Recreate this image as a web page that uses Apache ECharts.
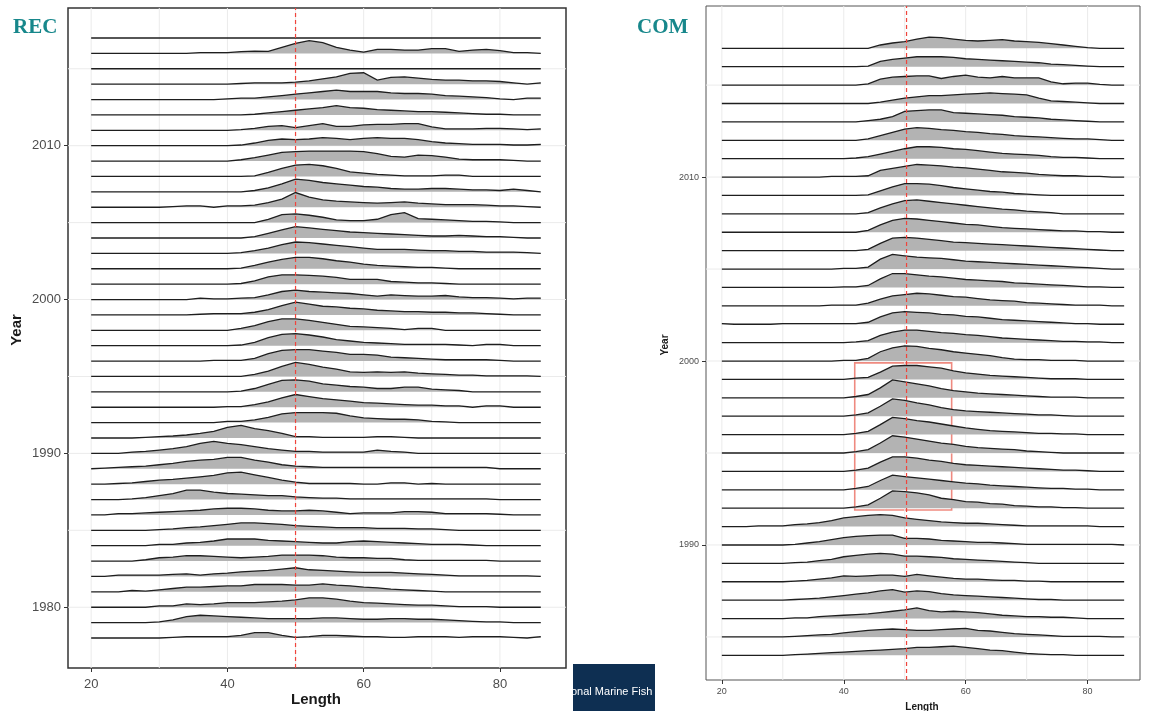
<!DOCTYPE html>
<html>
<head>
<meta charset="utf-8">
<script src="https://cdn.jsdelivr.net/npm/echarts@6/dist/echarts.min.js"></script>
<style>
  html, body { margin: 0; background: #fff; }
  #main { width: 1152px; height: 711px; }
</style>
</head>
<body>
<div id="main"></div>
<script>
// length grid (cm) shared by every ridge
const lengths = [20,22,24,26,28,30,32,34,36,38,40,42,44,46,48,50,52,54,56,58,60,62,64,66,68,70,72,74,76,78,80,82,84,86];

// REC panel, top row first
const recYears = [2017,2016,2015,2014,2013,2012,2011,2010,2009,2008,2007,2006,2005,2004,2003,2002,2001,2000,1999,1998,
                  1997,1996,1995,1994,1993,1992,1991,1990,1989,1988,1987,1986,1985,1984,1983,1982,1981,1980,1979,1978];
const recDensity = [
  [0,0,0,0,0,0,0,0,0,0,0,0,0,0,0,0,0,0,0,0,0,0,0,0,0,0,0,0,0,0,0,0,0,0],
  [0,0,0,0,0,0,0,0,2,2,2,5,7,6,18,30,38,32,18,10,4,12,12,10,10,14,14,6,10,12,8,2,2,0],
  [0,0,0,0,0,0,0,0,0,0,0,0,0,0,0,0,0,0,0,0,0,0,0,0,0,0,0,0,0,0,0,0,0,0],
  [0,0,0,0,0,0,0,0,0,0,0,2,4,4,4,6,10,16,22,32,34,12,20,22,18,14,12,12,10,10,8,4,0,4],
  [0,0,0,0,0,0,0,0,0,0,2,4,4,8,12,16,20,24,28,24,24,24,20,18,18,16,12,10,8,6,2,0,4,4],
  [0,0,0,0,0,0,0,0,0,0,0,0,2,6,10,14,18,22,28,22,20,16,14,12,10,10,8,6,4,2,2,0,0,0],
  [0,0,0,0,0,0,0,0,0,0,0,2,6,12,14,8,14,20,12,12,16,18,18,20,20,10,4,4,4,6,6,4,2,4],
  [0,0,0,0,0,0,0,0,0,0,0,2,8,16,20,18,20,24,22,18,22,24,22,22,18,12,8,6,4,4,4,2,2,4],
  [0,0,0,0,0,0,0,0,0,0,0,4,10,18,26,28,30,30,30,30,28,22,14,12,18,16,12,6,4,4,4,2,0,0],
  [0,0,0,0,0,0,0,0,0,0,0,0,2,12,24,34,36,32,24,14,10,6,4,2,2,2,4,4,0,0,0,0,0,0],
  [0,0,0,0,0,0,0,0,0,0,0,0,4,12,24,38,34,28,24,20,16,14,10,8,8,10,10,8,6,6,4,8,4,0],
  [0,0,0,0,0,0,2,4,4,0,4,4,6,14,24,44,30,22,18,16,14,12,14,16,12,10,8,8,8,6,4,4,2,0],
  [0,0,0,0,0,0,0,0,0,0,0,0,0,10,24,26,22,16,8,6,6,10,24,30,12,10,8,6,4,4,2,0,0,0],
  [0,0,0,0,0,0,0,0,0,0,0,0,4,14,24,34,30,26,22,18,16,14,12,10,8,6,6,8,6,4,4,2,0,0],
  [0,0,0,0,0,0,0,0,0,0,0,2,8,16,26,34,32,28,24,20,16,12,12,12,10,8,8,6,6,4,4,4,2,0],
  [0,0,0,0,0,0,0,0,0,0,0,2,10,20,28,34,34,30,24,20,14,10,8,6,4,4,2,0,0,0,0,0,0,0],
  [0,0,0,0,0,0,0,0,0,0,0,2,10,22,28,28,26,24,20,14,14,14,8,6,4,4,2,0,0,0,0,0,0,0],
  [0,0,0,0,0,0,0,0,4,2,2,4,6,14,24,28,24,22,20,18,14,10,14,12,10,10,12,8,6,6,4,2,4,4],
  [0,0,0,0,0,0,0,0,2,4,4,4,8,16,28,38,32,26,24,20,18,14,12,10,10,8,8,6,6,4,2,0,0,0],
  [0,0,0,0,0,0,0,0,0,0,0,6,14,26,34,34,30,24,18,12,10,8,6,2,6,6,0,0,0,0,0,0,0,0],
  [0,0,0,0,0,0,0,0,0,0,0,2,10,24,34,36,32,26,18,14,10,8,6,4,4,4,4,2,0,4,4,0,0,0],
  [0,0,0,0,0,0,0,0,0,2,2,2,8,22,32,34,34,30,26,20,20,18,12,10,8,6,4,4,4,4,2,0,0,0],
  [0,0,0,0,0,0,0,0,0,0,0,0,6,16,30,42,36,28,22,14,12,14,12,14,10,8,6,4,4,2,2,2,2,0],
  [0,0,0,0,0,0,0,0,0,0,0,2,10,22,34,36,32,24,20,16,14,10,10,14,14,8,6,4,0,0,0,0,0,0],
  [0,0,0,0,0,0,0,0,0,0,2,2,8,16,28,38,32,26,22,18,14,12,10,8,6,6,4,4,0,4,4,0,0,0],
  [0,0,0,0,0,0,0,0,0,0,4,4,8,16,26,30,30,30,28,20,14,12,10,10,8,4,2,0,0,0,0,0,0,0],
  [0,0,0,0,2,4,6,9,14,20,32,38,28,22,14,4,4,2,2,2,2,4,4,2,0,0,0,0,0,0,0,0,0,0],
  [0,0,0,4,6,10,14,20,30,36,30,26,20,14,10,6,6,4,4,4,4,10,6,4,0,0,0,0,0,0,0,0,0,0],
  [0,2,4,6,8,12,16,22,26,28,34,34,26,20,12,8,6,4,4,4,4,4,4,4,4,4,4,4,4,4,0,0,0,0],
  [0,0,2,4,8,12,14,18,22,26,34,36,28,20,12,6,2,2,2,2,0,0,4,4,0,2,0,0,0,0,0,0,0,0],
  [0,0,0,2,6,12,18,28,28,22,18,16,14,12,12,8,6,4,4,2,2,2,2,2,2,2,2,2,2,2,0,0,0,0],
  [0,0,4,4,6,8,10,12,14,18,20,20,18,14,12,12,14,12,8,4,6,6,6,10,10,8,4,4,4,4,2,0,0,0],
  [0,0,0,0,0,2,4,8,10,14,18,22,22,20,18,14,12,10,8,8,8,6,6,6,4,4,2,0,0,0,0,0,0,0],
  [0,0,0,0,0,4,4,8,10,14,20,20,20,16,14,12,10,8,8,12,14,12,10,8,6,4,4,4,2,0,0,0,0,0],
  [0,0,0,0,4,10,12,16,16,14,12,10,12,14,18,18,18,16,12,10,10,8,8,4,2,2,2,2,2,2,0,0,0,0],
  [0,0,4,4,4,4,6,8,4,8,10,14,16,18,22,26,20,18,16,14,12,12,12,10,8,6,4,2,2,2,2,2,2,0],
  [0,0,0,4,2,6,10,14,14,16,18,18,22,22,22,20,20,24,20,18,14,12,8,6,4,2,0,0,0,0,0,0,0,0],
  [0,0,0,0,0,4,4,10,8,10,14,14,14,16,18,22,28,28,24,18,14,12,10,8,6,6,4,2,2,2,0,0,0,0],
  [0,0,0,0,0,2,8,18,22,20,18,16,14,12,12,12,12,14,14,12,10,10,12,12,10,10,8,6,4,2,2,0,0,0],
  [0,0,0,0,0,0,2,4,4,4,4,8,16,16,8,2,4,8,8,6,4,4,2,2,4,4,4,2,4,4,4,2,0,4]
];

// COM panel, top row first
const comYears = [2017,2016,2015,2014,2013,2012,2011,2010,2009,2008,2007,2006,2005,2004,2003,2002,2001,2000,
                  1999,1998,1997,1996,1995,1994,1993,1992,1991,1990,1989,1988,1987,1986,1985,1984];
const comDensity = [
  [0,0,0,0,0,0,0,0,0,0,0,0,0,10,16,20,28,34,32,28,24,22,24,26,22,20,18,14,10,6,2,0,0,0],
  [0,0,0,0,0,0,0,0,0,0,0,0,2,16,22,26,30,30,30,28,24,22,20,18,16,14,12,8,6,4,2,0,0,0],
  [0,0,0,0,0,0,0,0,0,0,0,0,4,18,24,26,28,28,20,26,30,24,22,26,22,22,22,10,4,6,6,2,0,0],
  [0,0,0,0,0,0,0,0,0,0,0,0,0,4,10,16,20,24,24,26,28,30,32,30,28,26,16,8,6,4,2,0,0,0],
  [0,0,0,0,0,0,0,0,0,0,0,0,4,8,16,32,34,36,36,28,26,24,22,20,16,14,12,8,6,4,2,0,0,0],
  [0,0,0,0,0,0,0,0,0,0,0,0,4,14,24,34,38,36,32,30,26,24,20,18,14,12,10,8,6,4,4,2,0,0],
  [0,0,0,0,0,0,0,0,0,0,0,2,6,14,22,30,36,36,34,30,28,24,20,16,14,12,10,6,4,4,2,0,0,0],
  [0,0,0,0,0,0,0,0,0,2,2,2,4,20,26,32,38,36,34,30,28,24,20,16,14,12,8,6,4,4,2,2,0,0],
  [0,0,0,0,0,0,0,0,0,0,0,0,2,14,26,36,36,34,30,24,20,16,12,10,6,4,2,0,0,0,0,0,0,0],
  [0,0,0,0,0,0,0,0,0,0,0,0,4,18,30,40,42,38,34,30,26,22,18,14,12,8,6,4,0,0,0,0,0,0],
  [0,0,0,0,0,0,0,0,0,0,0,0,6,22,36,42,40,36,32,28,24,22,18,14,12,10,8,6,4,4,2,2,0,0],
  [0,0,0,0,0,0,0,0,0,0,0,0,4,22,38,40,38,34,30,26,24,22,20,18,16,14,12,10,8,6,4,2,0,0],
  [0,0,0,0,0,0,0,0,0,0,2,2,6,30,44,40,36,34,32,28,24,22,20,18,16,14,12,10,8,6,4,2,0,0],
  [0,0,0,0,0,0,0,0,0,0,2,2,6,26,42,42,38,34,32,28,24,22,20,18,14,12,10,8,6,4,2,2,0,0],
  [0,0,0,0,0,0,0,0,0,2,2,2,8,20,30,34,38,36,32,28,26,22,18,16,14,10,8,6,4,2,2,2,0,0],
  [2,0,0,0,0,2,2,2,2,2,2,2,6,22,34,38,36,34,30,28,24,22,18,14,12,10,8,6,4,2,2,0,0,0],
  [0,0,0,0,0,0,0,0,0,0,0,2,6,22,32,38,38,34,30,28,24,22,18,14,12,10,8,6,4,4,2,2,0,0],
  [0,0,0,0,0,0,0,0,0,0,2,2,8,28,40,46,44,38,34,28,24,20,16,10,6,4,4,2,2,2,0,0,0,0],
  [0,0,0,0,0,0,0,0,0,0,0,4,6,22,40,42,42,38,34,26,20,16,12,10,8,6,4,2,2,2,0,0,0,0],
  [0,0,0,0,0,0,0,0,0,0,0,4,10,30,54,48,42,36,28,22,18,14,12,10,8,6,4,2,2,2,0,0,0,0],
  [0,0,0,0,0,0,0,0,0,0,0,4,10,30,52,48,40,34,26,20,16,14,12,10,8,6,4,4,2,0,0,0,0,0],
  [0,0,0,0,0,0,0,0,0,0,0,4,10,30,52,48,42,38,32,26,20,16,12,10,8,6,4,4,2,2,0,0,0,0],
  [0,0,0,0,0,0,0,0,0,0,0,4,10,30,52,48,42,36,30,26,20,16,14,12,10,6,4,2,0,0,0,0,0,0],
  [0,0,0,0,0,0,0,0,0,0,0,4,10,28,44,44,40,34,30,24,20,18,16,14,12,10,8,6,4,4,2,0,0,0],
  [0,0,0,0,0,0,0,0,0,0,0,4,10,28,44,40,36,32,28,24,20,18,14,12,10,8,6,4,4,2,2,0,0,0],
  [0,0,0,0,0,0,0,0,0,0,0,4,10,30,52,50,46,40,30,26,20,18,14,12,8,6,4,4,2,2,0,0,0,0],
  [0,0,0,2,2,2,6,8,12,18,26,30,34,36,34,26,22,18,14,12,10,10,8,6,4,2,2,2,2,2,2,0,0,0],
  [0,0,0,0,0,0,2,6,10,16,22,26,28,30,30,20,20,18,14,12,10,8,8,6,4,2,2,2,2,2,2,2,2,0],
  [0,0,0,0,0,0,2,4,8,12,20,24,28,30,28,22,22,20,18,14,12,10,8,6,4,2,0,0,0,0,0,0,0,0],
  [0,0,0,0,0,0,2,4,8,12,18,16,18,20,20,16,22,18,14,10,8,8,6,4,4,2,2,0,0,0,0,0,0,0],
  [0,0,0,0,0,0,2,4,6,10,14,18,22,28,32,24,28,26,20,16,14,12,10,8,6,4,2,2,0,0,0,0,0,0],
  [0,0,0,0,0,0,2,2,6,8,10,12,14,18,22,26,32,24,20,22,20,18,14,10,8,6,6,4,4,2,0,0,0,0],
  [0,0,0,0,0,0,2,4,6,8,12,16,20,22,24,22,20,20,22,24,26,20,18,14,10,8,6,4,2,2,2,2,0,0],
  [0,0,0,0,0,0,2,4,6,8,10,12,14,16,18,20,24,24,26,28,24,20,16,14,10,6,4,2,2,0,0,0,0,0]
];

const lengthTicks = [20, 40, 60, 80];
const lengthGrid = [20, 30, 40, 50, 60, 70, 80];
const recYearTicks = [1980, 1990, 2000, 2010];
const recYearGrid = [1980, 1985, 1990, 1995, 2000, 2005, 2010, 2015];
const comYearTicks = [1990, 2000, 2010];
const comYearGrid = [1985, 1990, 1995, 2000, 2005, 2010, 2015];
const recRefLength = 50;
const comRefLength = 50.3;
const comBox = [[41.8, 1991.9], [57.7, 1999.9]];

// axis extents of the two panels
const recX = [16.6, 89.7], recY = [1976.05, 2018.95];
const comX = [17.4, 88.6], comY = [1982.66, 2019.3];

const myChart = echarts.init(document.getElementById('main'));

function ridges(idx, years, dens, scale) {
  return {
    type: 'custom',
    xAxisIndex: idx,
    yAxisIndex: idx,
    z: 3,
    silent: true,
    data: years.map((y, i) => [i, y]),
    renderItem: function (params, api) {
      const i = params.dataIndex;
      const y = years[i];
      const pts = lengths.map((L, k) => api.coord([L, y + dens[i][k] * scale]));
      const b0 = api.coord([lengths[0], y]);
      const b1 = api.coord([lengths[lengths.length - 1], y]);
      return {
        type: 'group',
        children: [
          { type: 'polygon', shape: { points: pts.concat([b1, b0]) }, style: { fill: '#b3b3b3' } },
          { type: 'polyline', shape: { points: pts }, style: { fill: null, stroke: '#1e1e1e', lineWidth: 1.3 } }
        ]
      };
    }
  };
}

// straight lines across a panel: ['v', x] vertical, ['h', y] horizontal
function lineSeries(idx, items, xr, yr, z, color, width, dash) {
  return {
    type: 'custom', xAxisIndex: idx, yAxisIndex: idx, z: z, silent: true,
    data: items.map((it, i) => [i]),
    renderItem: function (params, api) {
      const it = items[params.dataIndex];
      const p0 = it[0] === 'v' ? api.coord([it[1], yr[0]]) : api.coord([xr[0], it[1]]);
      const p1 = it[0] === 'v' ? api.coord([it[1], yr[1]]) : api.coord([xr[1], it[1]]);
      return {
        type: 'line',
        shape: { x1: p0[0], y1: p0[1], x2: p1[0], y2: p1[1] },
        style: { stroke: color, lineWidth: width, lineDash: dash || null }
      };
    }
  };
}

function gridItems(xs, ys) {
  return xs.map(v => ['v', v]).concat(ys.map(v => ['h', v]));
}

function xAx(idx, r, fs, margin) {
  return {
    type: 'value', gridIndex: idx, min: r[0], max: r[1],
    axisLine: { show: false },
    axisTick: { show: true, customValues: lengthTicks, length: 4, lineStyle: { color: '#333' } },
    axisLabel: { customValues: lengthTicks, color: '#4d4d4d', fontSize: fs, margin: margin, fontFamily: 'Liberation Sans' },
    splitLine: { show: false }
  };
}

function yAx(idx, r, ticks, fs, margin) {
  return {
    type: 'value', gridIndex: idx, min: r[0], max: r[1],
    axisLine: { show: false },
    axisTick: { show: true, customValues: ticks, length: 4, lineStyle: { color: '#333' } },
    axisLabel: { customValues: ticks, color: '#4d4d4d', fontSize: fs, margin: margin, fontFamily: 'Liberation Sans',
                 formatter: v => String(v) },
    splitLine: { show: false }
  };
}

const option = {
  animation: false,
  backgroundColor: '#fff',
  grid: [
    { left: 68, top: 8, width: 498, height: 660, show: true, borderColor: '#333', borderWidth: 1.5, backgroundColor: 'transparent' },
    { left: 706, top: 6, width: 434, height: 674, show: true, borderColor: '#555', borderWidth: 1, backgroundColor: 'transparent' }
  ],
  xAxis: [xAx(0, recX, 13, 10), xAx(1, comX, 9, 7)],
  yAxis: [yAx(0, recY, recYearTicks, 13, 7), yAx(1, comY, comYearTicks, 9, 7)],
  series: [
    lineSeries(0, gridItems(lengthGrid, recYearGrid), recX, recY, 1, '#ebebeb', 1),
    lineSeries(1, gridItems(lengthGrid, comYearGrid), comX, comY, 1, '#ebebeb', 1),
    ridges(0, recYears, recDensity, 1 / 46),
    ridges(1, comYears, comDensity, 1 / 55.5),
    lineSeries(0, [['v', recRefLength]], recX, recY, 8, '#f0443c', 1.2, [4, 3]),
    lineSeries(1, [['v', comRefLength]], comX, comY, 8, '#f0443c', 1.2, [4, 3]),
    {
      type: 'line', xAxisIndex: 1, yAxisIndex: 1, data: [], z: 9, silent: true,
      markArea: {
        silent: true,
        itemStyle: { color: 'rgba(0,0,0,0)', borderColor: '#ef8a80', borderWidth: 1.6 },
        data: [[{ xAxis: comBox[0][0], yAxis: comBox[0][1] }, { xAxis: comBox[1][0], yAxis: comBox[1][1] }]]
      }
    }
  ],
  graphic: [
    { type: 'text', left: 13, top: 17, style: { text: 'REC', fill: '#17878b', font: 'bold 21px "Liberation Serif"' } },
    { type: 'text', left: 637, top: 17, style: { text: 'COM', fill: '#17878b', font: 'bold 21px "Liberation Serif"' } },
    { type: 'text', x: 17, y: 330, rotation: Math.PI / 2, style: { text: 'Year', fill: '#1a1a1a', font: 'bold 15px "Liberation Sans"', align: 'center', verticalAlign: 'middle' } },
    { type: 'text', x: 316, y: 700, style: { text: 'Length', fill: '#1a1a1a', font: 'bold 15px "Liberation Sans"', align: 'center', verticalAlign: 'middle' } },
    { type: 'text', x: 665, y: 345, rotation: Math.PI / 2, style: { text: 'Year', fill: '#1a1a1a', font: 'bold 10px "Liberation Sans"', align: 'center', verticalAlign: 'middle' } },
    { type: 'text', x: 922, y: 707, style: { text: 'Length', fill: '#1a1a1a', font: 'bold 10px "Liberation Sans"', align: 'center', verticalAlign: 'middle' } },
    { type: 'rect', shape: { x: 573, y: 664, width: 82, height: 47 }, style: { fill: '#0e2f52' } },
    { type: 'text', x: 571, y: 692, style: { text: 'onal Marine Fish', fill: '#fff', font: '11px "Liberation Sans"', verticalAlign: 'middle' } }
  ]
};

myChart.setOption(option);
</script>
</body>
</html>
